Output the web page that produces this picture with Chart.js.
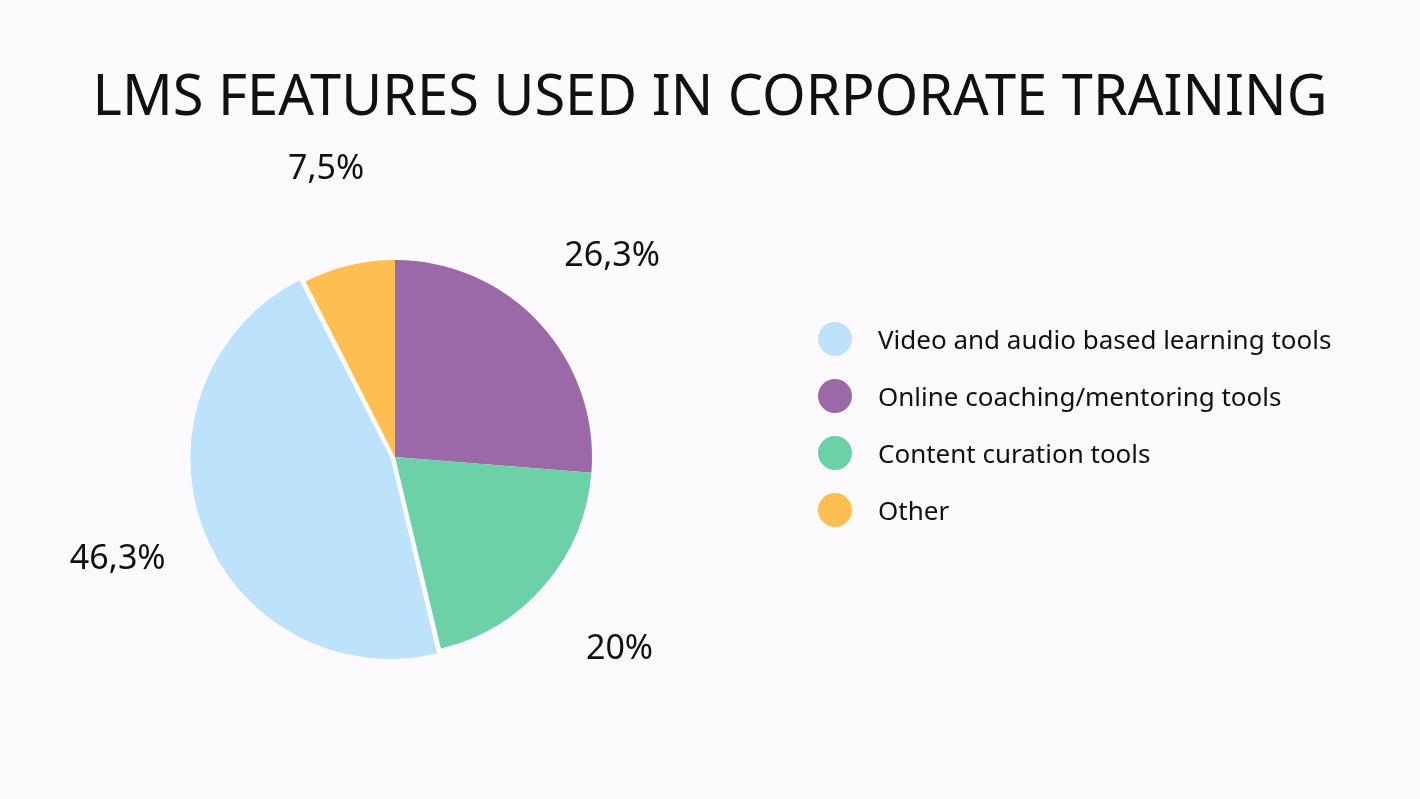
<!DOCTYPE html>
<html><head><meta charset="utf-8">
<script src="https://cdn.jsdelivr.net/npm/chart.js@4/dist/chart.umd.min.js"></script>
<style>
body{margin:0;width:1420px;height:799px;background:#fdfafd;font-family:"Noto Sans",sans-serif;overflow:hidden;position:relative}
#title{position:absolute;top:55px;left:0;width:1420px;text-align:center;font-size:56px;color:#111;letter-spacing:0px}
#wrap{position:absolute;left:0;top:0;width:1420px;height:799px}
#legend{position:absolute;left:818px;top:310px}
.item{display:flex;align-items:center;height:57px;font-size:26px;color:#111}
.dot{width:34px;height:34px;border-radius:50%;margin-right:26px}
</style></head><body>
<div id="title">LMS FEATURES USED IN CORPORATE TRAINING</div>
<div id="wrap"><canvas id="c"></canvas></div>
<div id="legend"></div>
<script>
const categories=["Online coaching/mentoring tools","Content curation tools","Video and audio based learning tools","Other"];
const values=[26.3,20,46.3,7.5];
const valueLabels=["26,3%","20%","46,3%","7,5%"];
const colors=["#9b69a8","#6dd1a8","#bce3fb","#ffbe52"];
const legendOrder=[2,0,1,3];
const offsets=[0,0,18,0];

const lg=document.getElementById('legend');
legendOrder.forEach(i=>{const d=document.createElement('div');d.className='item';
d.innerHTML='<span class="dot" style="background:'+colors[i]+'"></span>'+categories[i];lg.appendChild(d);});

const labelPlugin={id:'lbl',afterDatasetsDraw(chart){
 const ctx=chart.ctx;const meta=chart.getDatasetMeta(0);
 ctx.save();ctx.font='34px "Noto Sans"';ctx.fillStyle='#111';ctx.textAlign='center';ctx.textBaseline='middle';
 meta.data.forEach((a,i)=>{const m=(a.startAngle+a.endAngle)/2;const r=a.outerRadius*1.5;
  ctx.fillText(valueLabels[i],a.x+Math.cos(m)*r,a.y+Math.sin(m)*r);});
 ctx.restore();}};

new Chart(document.getElementById('c'),{type:'pie',
 data:{labels:categories,datasets:[{data:values,backgroundColor:colors,borderWidth:0,offset:offsets}]},
 options:{responsive:true,maintainAspectRatio:false,animation:false,
  layout:{padding:{left:189,right:819,top:251,bottom:136}},
  plugins:{legend:{display:false},tooltip:{enabled:false}}},
 plugins:[labelPlugin]});
</script></body></html>
